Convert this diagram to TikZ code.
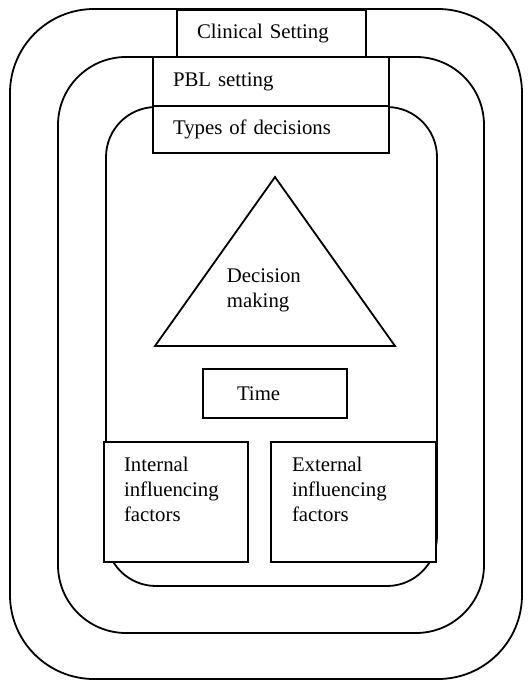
\documentclass[tikz,border=0pt]{standalone}
\usepackage{fontspec}
\setmainfont{Liberation Serif}
\usetikzlibrary{positioning}

\begin{document}
\begin{tikzpicture}[x=0.5pt,y=-0.5pt,line width=0.9pt,
	every node/.style={font=\fontsize{10.4}{12.4}\selectfont},
	box/.style={draw,fill=white,rectangle,inner ysep=0pt,align=left},
	words/.style={inner sep=0pt,align=left}]

\useasboundingbox (0,0) rectangle (530,680);
%\draw[color=black!30](0,0)grid[step=50](530,680);

% the three settings, outside in
\foreach \l/\t/\r/\b/\rad in {10/9/522/679/42,58/57/484/633/34,106/107/437/586/25}
	\draw[rounded corners=\rad pt] (\l,\t) rectangle (\r,\b);

\node[box,inner xsep=10pt,text width=74.5pt,minimum height=23.5pt] (clinical) at (271.5,33.5) {Clinical Setting};
\node[box,inner xsep=10pt,text width=98pt,minimum height=24.5pt] (pbl) at (271,81.5) {PBL setting};
\node[box,inner xsep=10pt,text width=98pt,minimum height=23.5pt] (types) at (271,129.5) {Types of decisions};

% triangle
\coordinate (apex) at (275,177);
\coordinate (left) at (155,346);
\coordinate (right) at (395,346);
\draw (apex) -- (left) -- (right) -- cycle;
\node[words,anchor=west] (decision) at (226,290) {Decision\\making};

\node[box,inner xsep=17pt,text width=38pt,minimum height=24.5pt] (time) at (275,393.5) {Time};

% influencing factors
\node[box,minimum width=72pt,minimum height=60pt] (internal) at (176,502) {};
\node[box,minimum width=82.5pt,minimum height=60pt] (external) at (353.5,502) {};
\node[words,anchor=north west,below right=7.5pt and 10pt of internal.north west] (inttext) {Internal\\influencing\\factors};
\node[words,anchor=north west,below right=7.5pt and 10.5pt of external.north west] (exttext) {External\\influencing\\factors};

\end{tikzpicture}
\end{document}
